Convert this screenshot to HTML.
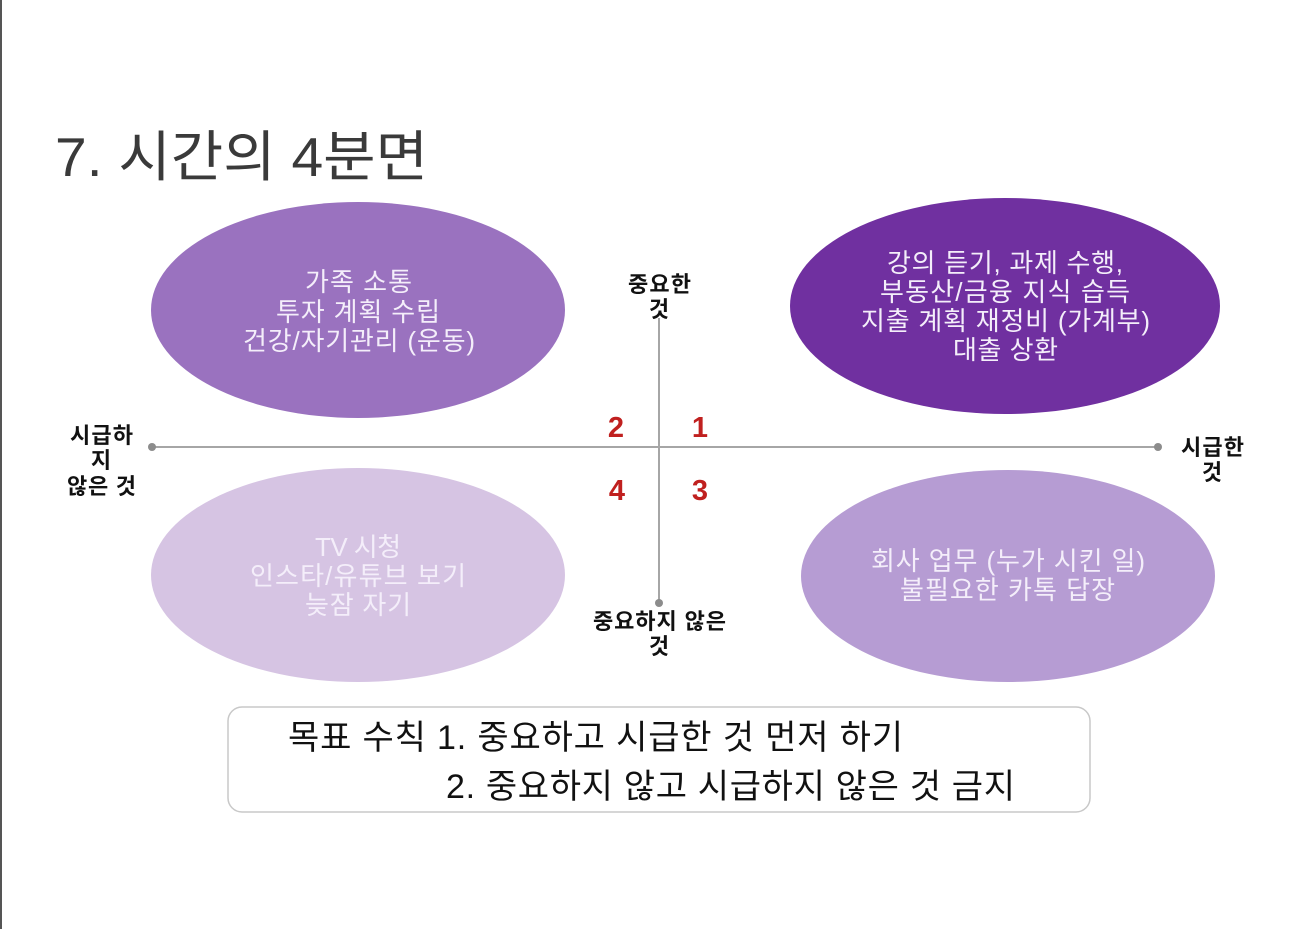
<!DOCTYPE html>
<html><head><meta charset="utf-8"><style>
html,body{margin:0;padding:0;background:#fff;}
body{width:1302px;height:929px;overflow:hidden;position:relative;font-family:"Liberation Sans","Noto Sans CJK KR",sans-serif;}
</style></head><body>
<svg width="1302" height="929" viewBox="0 0 1302 929" xmlns="http://www.w3.org/2000/svg" style="position:absolute;left:0;top:0" font-family="Liberation Sans, Noto Sans CJK KR, sans-serif">
<rect x="0" y="0" width="2" height="929" fill="#555"/>
<text x="55" y="176" font-size="55" fill="#3a3a3a" textLength="373" lengthAdjust="spacingAndGlyphs">7. 시간의 4분면</text>
<ellipse cx="358" cy="310" rx="207" ry="108" fill="#9a72bf"/>
<ellipse cx="1005" cy="306" rx="215" ry="108" fill="#7030a0"/>
<ellipse cx="358" cy="575" rx="207" ry="107" fill="#d6c4e3"/>
<ellipse cx="1008" cy="576" rx="207" ry="106" fill="#b69cd3"/>
<g fill="#f4eefa" font-size="26" lengthAdjust="spacingAndGlyphs">
<text x="305" y="291" textLength="107">가족 소통</text><text x="276" y="321" textLength="164">투자 계획 수립</text><text x="243" y="350" textLength="232">건강/자기관리 (운동)</text>
<text x="887" y="272" textLength="236">강의 듣기, 과제 수행,</text><text x="880" y="301" textLength="250">부동산/금융 지식 습득</text><text x="861" y="330" textLength="289">지출 계획 재정비 (가계부)</text><text x="953" y="359" textLength="105">대출 상환</text>
<text x="315" y="556" textLength="86">TV 시청</text><text x="250" y="585" textLength="216">인스타/유튜브 보기</text><text x="305" y="614" textLength="106">늦잠 자기</text>
<text x="871" y="570" textLength="274">회사 업무 (누가 시킨 일)</text><text x="900" y="599" textLength="215">불필요한 카톡 답장</text>
</g>
<line x1="152" y1="447" x2="1158" y2="447" stroke="#a6a6a6" stroke-width="2"/>
<line x1="659" y1="318" x2="659" y2="603" stroke="#a6a6a6" stroke-width="2"/>
<circle cx="152" cy="447" r="4" fill="#8c8c8c"/><circle cx="1158" cy="447" r="4" fill="#8c8c8c"/>
<circle cx="659" cy="603" r="4" fill="#8c8c8c"/>
<g font-size="22" font-weight="bold" fill="#111" lengthAdjust="spacingAndGlyphs">
<text x="628" y="292" textLength="63">중요한</text><text x="659" y="317" text-anchor="middle">것</text>
<text x="593" y="629" textLength="133">중요하지 않은</text><text x="659" y="654" text-anchor="middle">것</text>
<text x="70" y="443" textLength="63">시급하</text><text x="101" y="468" text-anchor="middle">지</text><text x="67" y="494" textLength="69">않은 것</text>
<text x="1181" y="455" textLength="63">시급한</text><text x="1212" y="480" text-anchor="middle">것</text>
</g>
<g font-size="29" font-weight="bold" fill="#c0201f" text-anchor="middle">
<text x="616" y="437">2</text><text x="700" y="437">1</text>
<text x="617" y="500">4</text><text x="700" y="500">3</text>
</g>
<rect x="228" y="707" width="862" height="105" rx="14" fill="#fff" stroke="#c8c8c8" stroke-width="1.5"/>
<g font-size="34" fill="#111" lengthAdjust="spacingAndGlyphs">
<text x="288" y="749" textLength="615">목표 수칙 1. 중요하고 시급한 것 먼저 하기</text>
<text x="446" y="798" textLength="569">2. 중요하지 않고 시급하지 않은 것 금지</text>
</g>
</svg>
</body></html>
